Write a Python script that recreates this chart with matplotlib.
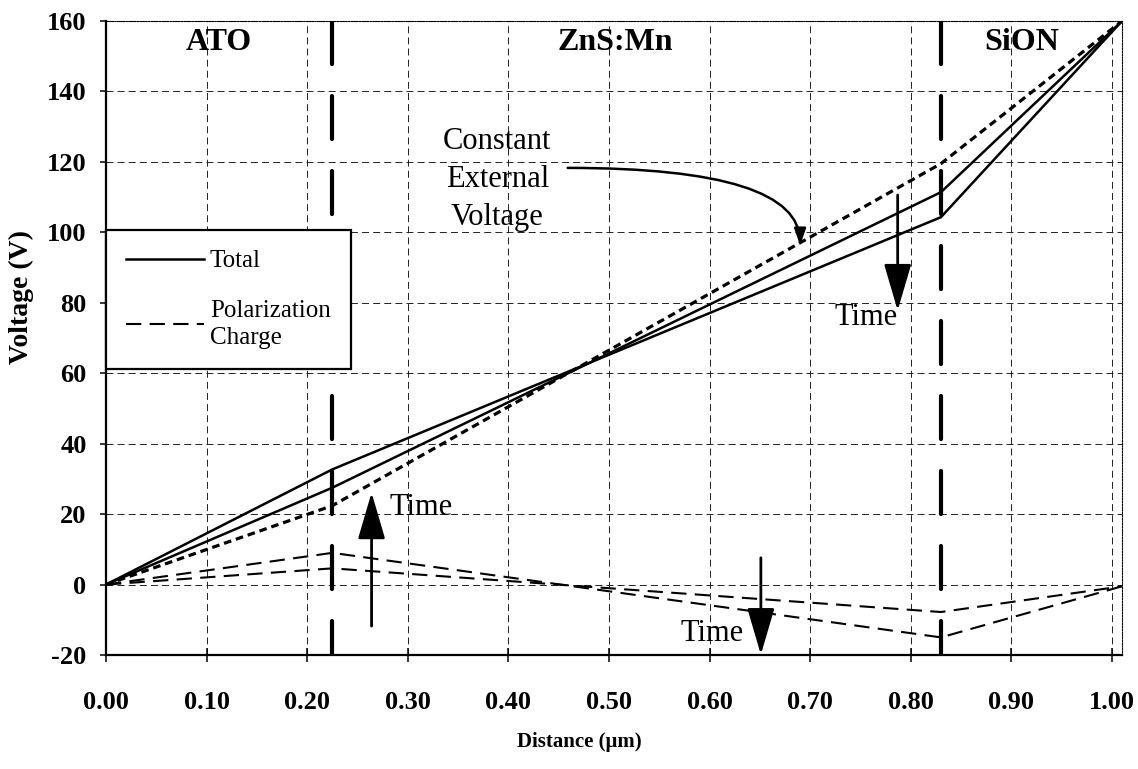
import numpy as np
import matplotlib
matplotlib.use("Agg")
import matplotlib.pyplot as plt

plt.rcParams['font.family'] = ['Liberation Serif', 'DejaVu Serif']
plt.rcParams['lines.scale_dashes'] = False
plt.rcParams['axes.unicode_minus'] = False

# node positions (um) and voltages (V)
x_nodes = [0.0, 0.225, 0.83, 1.01]
external = [0.0, 22.4, 119.5, 160.0]
total_early = [0.0, 27.5, 111.4, 160.0]
total_late = [0.0, 32.7, 104.3, 160.0]
polar_early = [0.0, 4.6, -7.8, -0.5]
polar_late = [0.0, 9.0, -15.0, -0.5]

interfaces = [0.225, 0.83]
regions = ['ATO', 'ZnS:Mn', 'SiON']
region_x = [0.112, 0.506, 0.91]
region_y = 154

xticks = [0.0, 0.1, 0.2, 0.3, 0.4, 0.5, 0.6, 0.7, 0.8, 0.9, 1.0]
xtick_labels = ['%.2f' % v for v in xticks]
yticks = [-20, 0, 20, 40, 60, 80, 100, 120, 140, 160]
ytick_labels = [str(v) for v in yticks]

# "Time" arrows: (tail, tip) and text anchor
time_arrows = [((0.264, -11.8), (0.264, 26.1)),
               ((0.787, 110.6), (0.787, 77.8)),
               ((0.651, 7.6), (0.651, -19.9))]
time_text = [(0.282, 21.8, 'left'), (0.756, 75.8, 'center'), (0.602, -14.0, 'center')]

fig = plt.figure(figsize=(11.38, 7.69), dpi=100)
ax = fig.add_axes([106/1138, 1 - 655/769, (1122-106)/1138, (655-21)/769])
ax.set_xlim(0, 1.01)
ax.set_ylim(-20, 160)

ax.grid(True, color='#222222', lw=0.7, linestyle=(0, (5, 3)))
ax.set_axisbelow(True)

dash_ext = (0, (5.5, 3.5))
dash_pol = (0, (11, 6))
ax.plot(x_nodes, external, color='k', lw=2.3, linestyle=dash_ext, zorder=3)
l_tot, = ax.plot(x_nodes, total_early, color='k', lw=1.8, zorder=3)
ax.plot(x_nodes, total_late, color='k', lw=1.8, zorder=3)
l_pol, = ax.plot(x_nodes, polar_early, color='k', lw=1.5, linestyle=dash_pol, zorder=3)
ax.plot(x_nodes, polar_late, color='k', lw=1.5, linestyle=dash_pol, zorder=3)

for xi in interfaces:
    ax.plot([xi, xi], [160, -20], color='k', lw=3.0, linestyle=(0, (31, 23)),
            dash_capstyle='round', zorder=4)

for name, rx in zip(regions, region_x):
    ax.text(rx, region_y, name, ha='center', va='center', fontsize=23, fontweight='bold')

for (tail, tip) in time_arrows:
    ax.annotate('', xy=tip, xytext=tail,
                arrowprops=dict(arrowstyle='-|>,head_length=29,head_width=8.5',
                                mutation_scale=1, lw=2.0, color='k',
                                shrinkA=0, shrinkB=0), zorder=5)
for tx, ty, ha in time_text:
    ax.text(tx, ty, 'Time', ha=ha, va='center', fontsize=22, zorder=5)

ax.text(0.389, 115.0, 'Constant\nExternal\nVoltage', ha='center', va='center',
        fontsize=22, linespacing=1.42)
ax.annotate('', xy=(0.690, 96.3), xytext=(0.459, 118.3),
            arrowprops=dict(arrowstyle='-|>,head_length=10,head_width=3.5',
                            mutation_scale=1, lw=1.8, color='k',
                            connectionstyle='angle3,angleA=0,angleB=90',
                            shrinkA=0, shrinkB=0))

leg = ax.legend([l_tot, l_pol], ['Total', 'Polarization\nCharge'],
                loc='upper left', bbox_to_anchor=(0.0, (655-230)/634),
                borderaxespad=0, fontsize=18, handlelength=3.1, handletextpad=0.25,
                borderpad=0.8, labelspacing=1.1, fancybox=False, framealpha=1)
leg.get_frame().set_edgecolor('k')
leg.get_frame().set_linewidth(1.6)
leg.get_texts()[1].set_linespacing(1.3)

ax.set_xticks(xticks, labels=xtick_labels)
ax.set_yticks(yticks, labels=ytick_labels)
ax.tick_params(axis='x', direction='inout', length=10, width=1.1, pad=21, labelsize=19)
ax.tick_params(axis='y', direction='out', length=4, width=1.1, pad=10, labelsize=19)
for lbl in ax.get_xticklabels() + ax.get_yticklabels():
    lbl.set_fontweight('bold')

for s in ['left', 'bottom']:
    ax.spines[s].set_linewidth(1.6)
for s in ['top', 'right']:
    ax.spines[s].set_linewidth(0.8)
    ax.spines[s].set_linestyle((0, (1, 1)))

fig.text(579/1138, 1 - 742/769, 'Distance (\u03bcm)', ha='center', va='center',
         fontsize=15, fontweight='bold')
fig.text(21/1138, 1 - 297/769, 'Voltage (V)', ha='center', va='center',
         rotation=90, fontsize=20, fontweight='bold')

fig.savefig('out.png', dpi=100)
